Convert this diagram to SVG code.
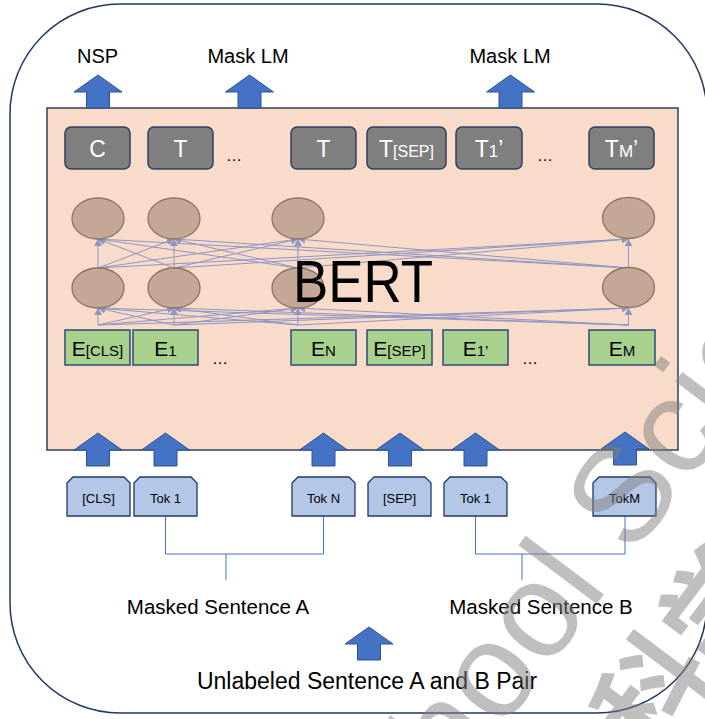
<svg xmlns="http://www.w3.org/2000/svg" xmlns:xlink="http://www.w3.org/1999/xlink" width="705" height="719" viewBox="0 0 705 719">
<defs>
<style>
.lbl{font-family:"Liberation Sans",Arial,sans-serif;fill:#000;text-anchor:middle}
.wt{font-family:"Liberation Sans",Arial,sans-serif;fill:#fff;text-anchor:middle}
.gbox{fill:#7f7f7f;stroke:#2f3f5f;stroke-width:1.5}
.ebox{fill:#a9d18e;stroke:#2f4a7a;stroke-width:1.5}
.tok{fill:#b4c7e7;stroke:#1f3864;stroke-width:1.3}
.ell{fill:#c4a795;stroke:#8c735f;stroke-width:1.3}
.arr{fill:#4472c4;stroke:#2f528f;stroke-width:1}
.cn{stroke:#8d95c5;stroke-width:1;fill:none;marker-end:url(#ah)}
.br{stroke:#4472c4;stroke-width:1;fill:none}
.wm{font-family:"Liberation Sans",sans-serif;fill:#808080;fill-opacity:0.5}
.wmc{font-family:"Noto Sans CJK SC",sans-serif;font-weight:bold;fill:#808080;fill-opacity:0.5}
</style>
<marker id="ah" markerUnits="userSpaceOnUse" markerWidth="8" markerHeight="8" refX="7" refY="4" orient="auto">
<path d="M0,0 L7,4 L0,8 Z" fill="#8d95c5"/>
</marker>
<path id="arrow" d="M0,0 L24,17 L11.5,17 L11.5,33 L-11.5,33 L-11.5,17 L-24,17 Z"/>
<path id="tokshape" d="M0,6 L6,0 L57,0 L63,6 L63,39 L0,39 Z"/>
</defs>

<rect id="frame" x="10" y="4" width="697" height="709" rx="110" ry="110" fill="#fff" stroke="#1f3864" stroke-width="1.5"/>

<g id="bert">
<rect x="47" y="108" width="631" height="342" fill="#f8dbc8" stroke="#2f3f5f" stroke-width="1.5"/>
</g>

<g id="outputs">
<use xlink:href="#arrow" class="arr" x="98" y="75"/>
<use xlink:href="#arrow" class="arr" x="249.5" y="75"/>
<use xlink:href="#arrow" class="arr" x="510.5" y="75"/>
<text class="lbl" x="97.5" y="63" font-size="20">NSP</text>
<text class="lbl" x="248" y="63" font-size="20">Mask LM</text>
<text class="lbl" x="510" y="63" font-size="20">Mask LM</text>
</g>

<g id="out-C"><rect class="gbox" x="65" y="127" width="65" height="42" rx="6"/><text class="wt" x="97.5" y="157" font-size="23">C</text></g>
<g id="out-T1"><rect class="gbox" x="148" y="127" width="65" height="42" rx="6"/><text class="wt" x="180.5" y="157" font-size="23">T</text></g>
<text class="lbl" x="234" y="161" font-size="16">…</text>
<g id="out-TN"><rect class="gbox" x="291" y="127" width="65" height="42" rx="6"/><text class="wt" x="323.5" y="157" font-size="23">T</text></g>
<g id="out-TSEP"><rect class="gbox" x="367" y="127" width="79" height="42" rx="6"/><text class="wt" x="406.5" y="157" font-size="23">T<tspan font-size="16">[SEP]</tspan></text></g>
<g id="out-T1b"><rect class="gbox" x="456" y="127" width="66" height="42" rx="6"/><text class="wt" x="489" y="157" font-size="23">T<tspan font-size="17">1</tspan>’</text></g>
<text class="lbl" x="545" y="161" font-size="16">…</text>
<g id="out-TM"><rect class="gbox" x="589" y="127" width="65" height="42" rx="6"/><text class="wt" x="621.5" y="157" font-size="23">T<tspan font-size="17">M</tspan>’</text></g>

<g id="connectors">
<path class="cn" d="M98,325 L98,308"/>
<path class="cn" d="M98,325 L174,308"/>
<path class="cn" d="M98,325 L298,308"/>
<path class="cn" d="M98,325 L628.5,308"/>
<path class="cn" d="M174,325 L98,308"/>
<path class="cn" d="M174,325 L174,308"/>
<path class="cn" d="M174,325 L298,308"/>
<path class="cn" d="M174,325 L628.5,308"/>
<path class="cn" d="M298,325 L98,308"/>
<path class="cn" d="M298,325 L174,308"/>
<path class="cn" d="M298,325 L298,308"/>
<path class="cn" d="M298,325 L628.5,308"/>
<path class="cn" d="M628.5,325 L98,308"/>
<path class="cn" d="M628.5,325 L174,308"/>
<path class="cn" d="M628.5,325 L298,308"/>
<path class="cn" d="M628.5,325 L628.5,308"/>
<path class="cn" d="M98,268 L98,239"/>
<path class="cn" d="M98,268 L174,239"/>
<path class="cn" d="M98,268 L298,239"/>
<path class="cn" d="M98,268 L628.5,239"/>
<path class="cn" d="M174,268 L98,239"/>
<path class="cn" d="M174,268 L174,239"/>
<path class="cn" d="M174,268 L298,239"/>
<path class="cn" d="M174,268 L628.5,239"/>
<path class="cn" d="M298,268 L98,239"/>
<path class="cn" d="M298,268 L174,239"/>
<path class="cn" d="M298,268 L298,239"/>
<path class="cn" d="M298,268 L628.5,239"/>
<path class="cn" d="M628.5,268 L98,239"/>
<path class="cn" d="M628.5,268 L174,239"/>
<path class="cn" d="M628.5,268 L298,239"/>
<path class="cn" d="M628.5,268 L628.5,239"/>
<path class="br" d="M165.5,516 V554 H323.5 V516 M226,554 V580"/>
<path class="br" d="M475.5,516 V554 H625 V516 M522,554 V580"/>
</g>

<g id="h2-1"><ellipse class="ell" cx="98" cy="218.5" rx="26" ry="20.5"/></g>
<g id="h2-2"><ellipse class="ell" cx="174" cy="218.5" rx="26" ry="20.5"/></g>
<g id="h2-3"><ellipse class="ell" cx="298" cy="218.5" rx="26" ry="20.5"/></g>
<g id="h2-4"><ellipse class="ell" cx="628.5" cy="218" rx="26" ry="20.5"/></g>
<g id="h1-1"><ellipse class="ell" cx="98" cy="288" rx="26" ry="20"/></g>
<g id="h1-2"><ellipse class="ell" cx="174" cy="288" rx="26" ry="20"/></g>
<g id="h1-3"><ellipse class="ell" cx="298" cy="288" rx="26" ry="20"/></g>
<g id="h1-4"><ellipse class="ell" cx="628.5" cy="287.5" rx="26" ry="20"/></g>

<text id="bert-label" class="lbl" x="293" y="302" style="text-anchor:start" font-size="60" textLength="140" lengthAdjust="spacingAndGlyphs">BERT</text>

<g id="emb-CLS"><rect class="ebox" x="65" y="330" width="65" height="35"/><text class="lbl" x="97.5" y="356" font-size="21">E<tspan font-size="15">[CLS]</tspan></text></g>
<g id="emb-1"><rect class="ebox" x="133" y="330" width="65" height="35"/><text class="lbl" x="165.5" y="356" font-size="21">E<tspan font-size="15">1</tspan></text></g>
<text class="lbl" x="220" y="364" font-size="16">…</text>
<g id="emb-N"><rect class="ebox" x="291" y="330" width="65" height="35"/><text class="lbl" x="323.5" y="356" font-size="21">E<tspan font-size="15">N</tspan></text></g>
<g id="emb-SEP"><rect class="ebox" x="367" y="330" width="65" height="35"/><text class="lbl" x="399.5" y="356" font-size="21">E<tspan font-size="15">[SEP]</tspan></text></g>
<g id="emb-1b"><rect class="ebox" x="443" y="330" width="65" height="35"/><text class="lbl" x="475.5" y="356" font-size="21">E<tspan font-size="15">1’</tspan></text></g>
<text class="lbl" x="530" y="364" font-size="16">…</text>
<g id="emb-M"><rect class="ebox" x="589" y="330" width="66" height="35"/><text class="lbl" x="622" y="356" font-size="21">E<tspan font-size="15">M</tspan></text></g>

<g id="inarrows">
<use xlink:href="#arrow" class="arr" x="98" y="433"/>
<use xlink:href="#arrow" class="arr" x="165.5" y="433"/>
<use xlink:href="#arrow" class="arr" x="323.5" y="433"/>
<use xlink:href="#arrow" class="arr" x="400" y="433"/>
<use xlink:href="#arrow" class="arr" x="475.5" y="433"/>
<use xlink:href="#arrow" class="arr" x="625" y="432"/>
<use xlink:href="#arrow" class="arr" x="369" y="627"/>
</g>

<g id="tok-CLS"><use xlink:href="#tokshape" class="tok" x="67" y="477"/><text class="lbl" x="98.5" y="503" font-size="13">[CLS]</text></g>
<g id="tok-1"><use xlink:href="#tokshape" class="tok" x="134" y="477"/><text class="lbl" x="165.5" y="503" font-size="13">Tok 1</text></g>
<g id="tok-N"><use xlink:href="#tokshape" class="tok" x="292" y="477"/><text class="lbl" x="323.5" y="503" font-size="13">Tok N</text></g>
<g id="tok-SEP"><use xlink:href="#tokshape" class="tok" x="368" y="477"/><text class="lbl" x="399.5" y="503" font-size="13">[SEP]</text></g>
<g id="tok-1b"><use xlink:href="#tokshape" class="tok" x="444" y="477"/><text class="lbl" x="475.5" y="503" font-size="13">Tok 1</text></g>
<g id="tok-M"><use xlink:href="#tokshape" class="tok" x="593" y="477"/><text class="lbl" x="624.5" y="503" font-size="13">TokM</text></g>

<text class="lbl" x="218" y="614" font-size="20.5">Masked Sentence A</text>
<text class="lbl" x="541" y="614" font-size="20.5">Masked Sentence B</text>
<text class="lbl" x="367" y="689" font-size="23">Unlabeled Sentence A and B Pair</text>

<g id="watermark" transform="translate(361,917) rotate(-53)">
<text class="wm" x="0" y="0" font-size="135">School Science</text>
<text class="wmc" x="300" y="138" font-size="110">科学</text>
</g>
</svg>
